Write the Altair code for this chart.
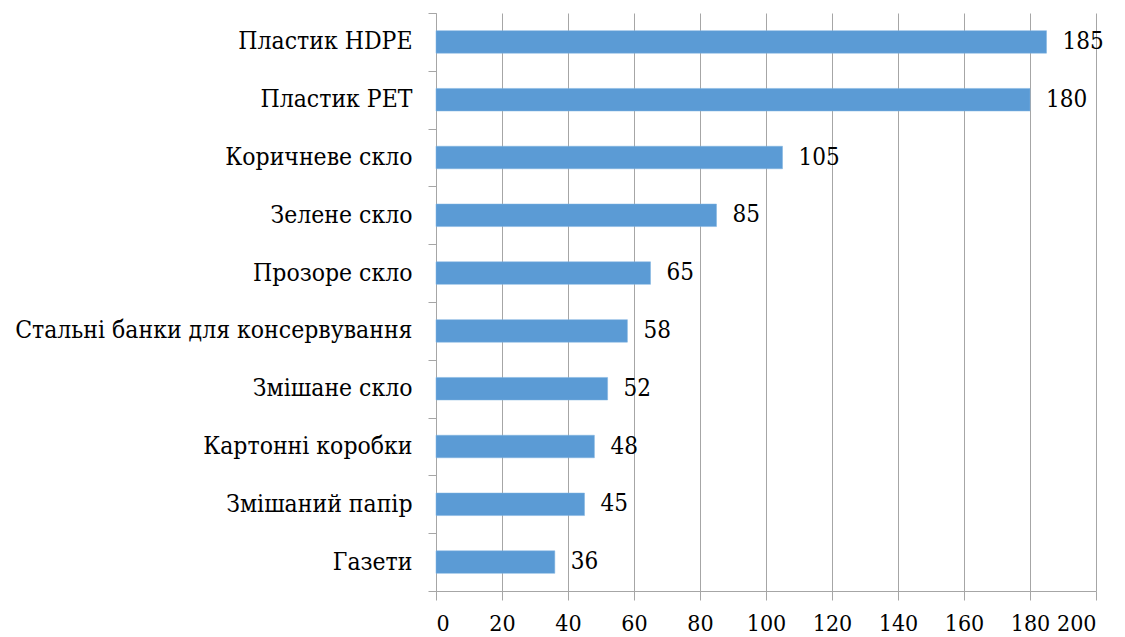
import altair as alt
import pandas as pd

categories = [
    "Пластик HDPE",
    "Пластик PET",
    "Коричневе скло",
    "Зелене скло",
    "Прозоре скло",
    "Стальні банки для консервування",
    "Змішане скло",
    "Картонні коробки",
    "Змішаний папір",
    "Газети",
]
values = [185, 180, 105, 85, 65, 58, 52, 48, 45, 36]
x_ticks = [0, 20, 40, 60, 80, 100, 120, 140, 160, 180, 200]

df = pd.DataFrame({"cat": categories, "val": values})

FONT = "DejaVu Serif Condensed"
GRID = "#A6A6A6"

y_enc = alt.Y(
    "cat:N",
    sort=categories,
    title=None,
    scale=alt.Scale(paddingInner=0, paddingOuter=0),
    axis=alt.Axis(
        tickBand="extent",
        ticks=True,
        tickSize=8,
        tickColor=GRID,
        domainColor=GRID,
        labelFont=FONT,
        labelFontSize=24.5,
        labelColor="black",
        labelPadding=16,
        grid=False,
        labelLimit=500,
    ),
)

x_enc = alt.X(
    "val:Q",
    title=None,
    scale=alt.Scale(domain=[0, 200], nice=False, zero=True),
    axis=alt.Axis(
        values=x_ticks,
        grid=True,
        gridColor=GRID,
        tickColor=GRID,
        domainColor=GRID,
        tickSize=9,
        labelFont=FONT,
        labelFontSize=23,
        labelColor="black",
        labelPadding=12,
        labelOverlap=False,
    ),
)

bars = alt.Chart(df).mark_bar(
    color="#5B9BD5",
    height=alt.RelativeBandSize(0.39),
    stroke="#7FB2E0",
    strokeWidth=0.5,
).encode(x=x_enc, y=y_enc)

labels = alt.Chart(df).mark_text(
    align="left",
    baseline="middle",
    dx=16,
    font=FONT,
    fontSize=24,
    color="black",
).encode(
    x=alt.X("val:Q", scale=alt.Scale(domain=[0, 200], nice=False)),
    y=alt.Y("cat:N", sort=categories),
    text="val:Q",
)

chart = (
    alt.layer(bars, labels)
    .properties(
        width=660,
        height=578,
        autosize=alt.AutoSizeParams(type="none"),
        padding={"left": 428, "top": 5, "right": 20, "bottom": 60},
        background="white",
    )
    .configure_view(stroke=None)
)

chart.save("out.html", embed_options={"renderer": "svg", "actions": False})
